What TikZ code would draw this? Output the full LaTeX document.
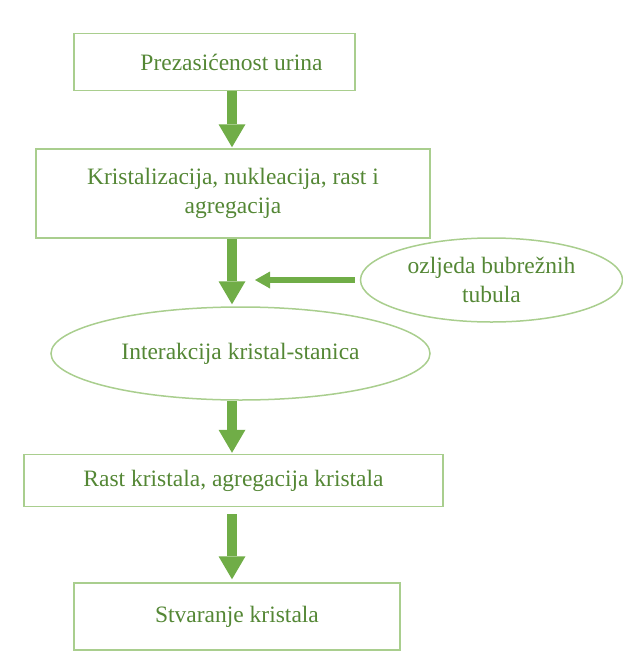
\documentclass[tikz,border=0pt]{standalone}
\usepackage{fontspec}
\setmainfont{Liberation Serif}
\usetikzlibrary{arrows.meta,shapes.geometric}
\definecolor{txtgreen}{RGB}{84,135,53}
\definecolor{linegreen}{RGB}{169,206,142}
\definecolor{arrowgreen}{RGB}{112,173,71}
\tikzset{
  box/.style={draw=linegreen,line width=1.5pt,text=txtgreen,align=center,inner sep=0pt,font=\fontsize{23.5}{29}\selectfont},
  oval/.style={box,ellipse},
  bigarrow/.style={draw=arrowgreen,line width=10pt,-{Triangle[width=27pt,length=23pt,line width=0pt]}},
  smallarrow/.style={draw=arrowgreen,line width=6pt,-{Triangle[width=17pt,length=15pt,line width=0pt]}}
}
\begin{document}
\begin{tikzpicture}[x=1pt,y=-1pt]
    \useasboundingbox (0,0) rectangle (623,659);
    \node[box,minimum width=281pt,minimum height=57pt] (urin) at (214.5,62) {\hspace*{34pt}Prezasićenost urina};
    \node[box,minimum width=394pt,minimum height=89pt] (krist) at (233,193.5) {Kristalizacija, nukleacija, rast i\\agregacija};
    \node[oval,minimum width=379pt,minimum height=93pt] (inter) at (240.5,353.5) {Interakcija kristal-stanica};
    \node[oval,minimum width=262pt,minimum height=84pt] (ozlj) at (491.5,280) {ozljeda bubrežnih\\tubula};
    \node[box,minimum width=419pt,minimum height=52pt] (rast) at (233.5,480.5) {Rast kristala, agregacija kristala};
    \node[box,minimum width=326pt,minimum height=67pt] (stvar) at (237,616.5) {Stvaranje kristala};
    \coordinate (os) at (232,0);
    \coordinate (cilj) at (255,280);
    \draw[bigarrow,shorten >=1pt] (urin.south -| os) -- (krist.north -| os);
    \draw[bigarrow,shorten >=2pt] (krist.south -| os) -- (inter.north -| os);
    \draw[bigarrow,shorten >=1pt] (inter.south -| os) -- (rast.north -| os);
    \draw[bigarrow,shorten <=7pt,shorten >=3pt] (rast.south -| os) -- (stvar.north -| os);
    \draw[smallarrow,shorten <=5pt] (ozlj.west) -- (cilj);
\end{tikzpicture}
\end{document}
